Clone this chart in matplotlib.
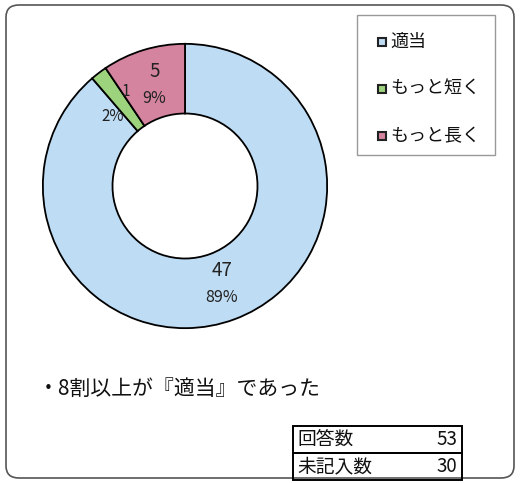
import numpy as np
import matplotlib
matplotlib.use("Agg")
import matplotlib.pyplot as plt
from matplotlib.patches import FancyBboxPatch, Rectangle

plt.rcParams['font.family'] = ['Noto Sans CJK JP', 'DejaVu Sans']

categories = ["適当", "もっと短く", "もっと長く"]
values = [47, 1, 5]
percents = ["89%", "2%", "9%"]
colors = ["#BEDCF4", "#9ED37E", "#D4849F"]
note = "・8割以上が『適当』であった"
table_labels = ["回答数", "未記入数"]
table_values = [53, 30]

W, H = 520, 483
fig = plt.figure(figsize=(W / 100, H / 100), dpi=100)

def fx(px):
    return px / W

def fy(py):
    return 1 - py / H

# outer rounded frame
frame = FancyBboxPatch((fx(6), fy(478)), fx(508), (473) / H,
                       boxstyle="round,pad=0,rounding_size=0.025",
                       transform=fig.transFigure, fill=False,
                       edgecolor="#555555", linewidth=1.2)
fig.patches.append(frame)

# pie
cx, cy, r = 185, 186, 145
ax = fig.add_axes([fx(cx - r), fy(cy + r), 2 * r / W, 2 * r / H])
wedges, _ = ax.pie(values, colors=colors, startangle=90, counterclock=False,
                   radius=1.0,
                   wedgeprops=dict(width=0.49, edgecolor="black", linewidth=1.3))
ax.set_xlim(-1.02, 1.02)
ax.set_ylim(-1.02, 1.02)
ax.set_aspect("equal")
ax.axis("off")

total = sum(values)
cum = 0
for v, p in zip(values, percents):
    mid = 90 - (cum + v / 2) / total * 360
    cum += v
    rad = np.deg2rad(mid)
    x, y = 0.74 * np.cos(rad), 0.74 * np.sin(rad)
    if v == 1:
        ax.text(x + 0.03, y + 0.08, str(v), ha="center", va="center", fontsize=11, color="#222222")
        ax.text(x - 0.06, y - 0.1, p, ha="center", va="center", fontsize=11, color="#222222")
    else:
        ax.text(x, y + 0.1, str(v), ha="center", va="center", fontsize=13.5, color="#222222")
        ax.text(x, y - 0.09, p, ha="center", va="center", fontsize=11.5, color="#222222")

# legend box
lg = Rectangle((fx(357), fy(155)), fx(495) - fx(357), (155 - 15) / H,
               transform=fig.transFigure, fill=False, edgecolor="#999999", linewidth=1.0)
fig.patches.append(lg)
for i, (c, col) in enumerate(zip(categories, colors)):
    yy = 42 + i * 47
    sq = Rectangle((fx(378), fy(yy + 4)), 8 / W, 8 / H, transform=fig.transFigure,
                   facecolor=col, edgecolor="#222222", linewidth=1.5)
    fig.patches.append(sq)
    fig.text(fx(390), fy(yy), c, ha="left", va="center", fontsize=13, color="#111111")

# note
fig.text(fx(38), fy(389), note, ha="left", va="center", fontsize=15, color="#111111")

# table
tx0, tx1 = 293, 462
row_h = 27
for i, (lab, val) in enumerate(zip(table_labels, table_values)):
    y0 = 426 + i * row_h
    rect = Rectangle((fx(tx0), fy(y0 + row_h)), fx(tx1) - fx(tx0), row_h / H,
                     transform=fig.transFigure, fill=False, edgecolor="black", linewidth=1.4)
    fig.patches.append(rect)
    fig.text(fx(tx0 + 4), fy(y0 + row_h / 2), lab, ha="left", va="center", fontsize=13.5, color="#111111")
    fig.text(fx(tx1 - 5), fy(y0 + row_h / 2), str(val), ha="right", va="center", fontsize=13.5, color="#111111")

fig.savefig("out.png", dpi=100)
